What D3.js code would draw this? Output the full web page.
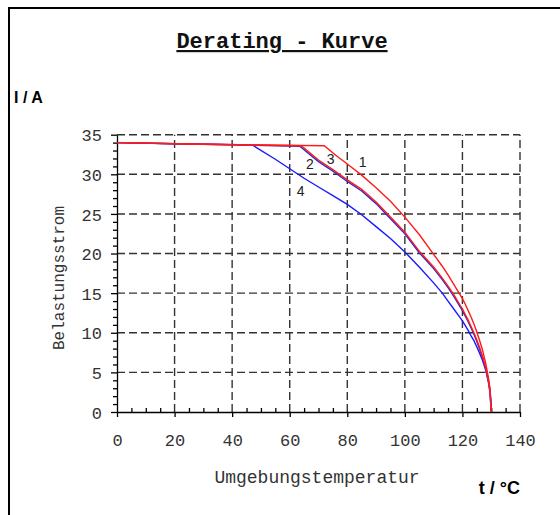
<!DOCTYPE html>
<html>
<head>
<meta charset="utf-8">
<script src="https://cdn.jsdelivr.net/npm/d3@7"></script>
<style>
  body { margin: 0; background: white; }
</style>
</head>
<body>
<script>

// values (temperature in °C, current in A)
var curve1_t = [0, 30, 72, 76, 80, 85, 90, 95, 100, 105, 110, 113, 115, 117, 119, 120, 121, 122, 123, 124, 125, 126, 127, 128, 129, 129.6, 130];
var curve1_i = [34.0, 33.8, 33.6, 32.4, 31.3, 29.9, 28.3, 26.6, 24.6, 22.4, 19.9, 18.4, 17.3, 16.1, 14.9, 14.3, 13.6, 12.8, 12.0, 11.1, 10.1, 9.0, 7.8, 6.3, 4.4, 2.8, 0];

var curve2_t = [0, 30, 63.5, 70, 75, 80, 85, 90, 95, 100, 105, 110, 113, 115, 117, 119, 120, 121, 122, 123, 124, 125, 126, 127, 128, 129, 129.6, 130];
var curve2_i = [34.0, 33.8, 33.55, 31.6, 30.4, 29.1, 27.9, 26.3, 24.4, 22.5, 20.1, 18.1, 16.7, 15.7, 14.6, 13.4, 12.8, 12.1, 11.4, 10.6, 9.8, 8.9, 7.9, 6.8, 5.5, 3.8, 2.4, 0];

var curve3_t = [0, 30, 64, 70, 75, 80, 85, 90, 95, 100, 105, 110, 113, 115, 117, 119, 120, 121, 122, 123, 124, 125, 126, 127, 128, 129, 129.6, 130];
var curve3_i = [34.0, 33.8, 33.6, 31.8, 30.6, 29.3, 28.1, 26.5, 24.6, 22.7, 20.3, 18.3, 16.9, 15.9, 14.8, 13.6, 13.0, 12.3, 11.6, 10.8, 10.0, 9.1, 8.1, 7.0, 5.7, 4.0, 2.5, 0];

var curve4_t = [0, 20, 40, 47, 55, 60, 65, 70, 75, 80, 85, 90, 95, 100, 105, 110, 113, 115, 117, 119, 120, 121, 122, 123, 124, 125, 126, 127, 128, 129, 129.5, 129.9, 130];
var curve4_i = [34.0, 33.85, 33.75, 33.7, 31.9, 30.7, 29.5, 28.4, 27.3, 26.2, 24.9, 23.4, 21.9, 20.2, 18.3, 16.3, 15.0, 14.0, 13.0, 12.0, 11.5, 10.9, 10.3, 9.6, 9.0, 8.2, 7.4, 6.5, 5.4, 4.0, 3.0, 1.5, 0];

// curve numbers and where they sit
var label_names = ["1", "2", "3", "4"];
var label_t = [85.3, 67.0, 74.2, 63.8];
var label_i = [30.9, 30.7, 31.3, 27.2];

var x_ticks = [0, 20, 40, 60, 80, 100, 120, 140];
var y_ticks = [0, 5, 10, 15, 20, 25, 30, 35];

window.onload = function() {

    const width = 560;
    const height = 515;

    var svg = d3.select("body").append("svg")
        .attr("width", width)
        .attr("height", height);

    var xScale = d3.scaleLinear()
        .domain([0, 140])
        .range([117, 520]);

    var yScale = d3.scaleLinear()
        .domain([0, 35])
        .range([412, 134.7]);

    // frame round the picture (left and top only)
    svg.append("path")
        .attr("d", "M9,515 L9,8 L560,8")
        .attr("fill", "none")
        .attr("stroke", "black")
        .attr("stroke-width", 2);

    // title
    svg.append("text")
        .attr("x", 282)
        .attr("y", 48)
        .attr("text-anchor", "middle")
        .attr("font-family", "'Liberation Mono', 'Courier New', monospace")
        .attr("font-weight", "bold")
        .attr("font-size", "22px")
        .attr("fill", "#111")
        .attr("text-decoration", "underline")
        .text("Derating - Kurve");

    svg.append("text")
        .attr("x", 14)
        .attr("y", 103)
        .attr("font-family", "'Liberation Sans', Arial, sans-serif")
        .attr("font-weight", "bold")
        .attr("font-size", "16px")
        .text("I / A");

    // dashed grid
    var grid = svg.append("g");
    grid.selectAll(".vgrid")
        .data(x_ticks.slice(1))
        .enter()
        .append("line")
        .attr("x1", function(d) { return xScale(d); })
        .attr("x2", function(d) { return xScale(d); })
        .attr("y1", yScale(0))
        .attr("y2", yScale(35));
    grid.selectAll(".hgrid")
        .data(y_ticks.slice(1))
        .enter()
        .append("line")
        .attr("x1", xScale(0))
        .attr("x2", xScale(140))
        .attr("y1", function(d) { return yScale(d); })
        .attr("y2", function(d) { return yScale(d); });
    grid.selectAll("line")
        .attr("stroke", "#333")
        .attr("stroke-width", 1.4)
        .attr("stroke-dasharray", "8,4");

    var tickFont = "'Liberation Mono', 'Courier New', monospace";

    // x axis: labelled ticks plus minor ticks pointing up
    var xAxis = svg.append("g")
        .attr("transform", "translate(0," + yScale(0) + ")")
        .call(d3.axisBottom(xScale).tickValues(x_ticks).tickSize(5).tickSizeOuter(0));
    xAxis.selectAll("text")
        .attr("y", 34)
        .attr("dy", "0")
        .attr("font-family", tickFont)
        .attr("font-size", "17px")
        .attr("fill", "#333");

    var xMinor = d3.range(5, 140, 5).filter(function(d) { return d % 20 != 0; });
    svg.append("g")
        .attr("transform", "translate(0," + yScale(0) + ")")
        .call(d3.axisTop(xScale).tickValues(xMinor).tickSize(4).tickFormat(""))
        .select(".domain").remove();

    // y axis: labelled ticks plus minor ticks on the left
    var yAxis = svg.append("g")
        .attr("transform", "translate(" + xScale(0) + ",0)")
        .call(d3.axisLeft(yScale).tickValues(y_ticks).tickSize(6).tickSizeOuter(0));
    yAxis.selectAll("text")
        .attr("x", -15)
        .attr("dy", "0.36em")
        .attr("font-family", tickFont)
        .attr("font-size", "17px")
        .attr("fill", "#333");

    var yMinor = d3.range(1, 35, 1).filter(function(d) { return d % 5 != 0; });
    svg.append("g")
        .attr("transform", "translate(" + xScale(0) + ",0)")
        .call(d3.axisLeft(yScale).tickValues(yMinor).tickSize(4).tickFormat(""))
        .select(".domain").remove();

    svg.selectAll(".domain, .tick line")
        .attr("stroke", "black")
        .attr("stroke-width", 1.3);

    // axis names
    svg.append("text")
        .attr("transform", "translate(64,278) rotate(-90)")
        .attr("text-anchor", "middle")
        .attr("font-family", tickFont)
        .attr("font-size", "16px")
        .attr("fill", "#333")
        .text("Belastungsstrom");

    svg.append("text")
        .attr("x", 317)
        .attr("y", 483)
        .attr("text-anchor", "middle")
        .attr("font-family", tickFont)
        .attr("font-size", "18px")
        .attr("fill", "#333")
        .text("Umgebungstemperatur");

    svg.append("text")
        .attr("x", 520)
        .attr("y", 494)
        .attr("text-anchor", "end")
        .attr("font-family", "'Liberation Sans', Arial, sans-serif")
        .attr("font-weight", "bold")
        .attr("font-size", "18px")
        .text("t / °C");

    // curves
    var curves = [
        {t: curve4_t, i: curve4_i, color: "#1a1aff"},
        {t: curve2_t, i: curve2_i, color: "#2a2ad8"},
        {t: curve3_t, i: curve3_i, color: "#ff1a1a"},
        {t: curve1_t, i: curve1_i, color: "#ff1a1a"}
    ];

    var line = d3.line()
        .x(function(d) { return xScale(d[0]); })
        .y(function(d) { return yScale(d[1]); });

    svg.selectAll(".curve")
        .data(curves)
        .enter()
        .append("path")
        .attr("class", "curve")
        .attr("fill", "none")
        .attr("stroke", function(d) { return d.color; })
        .attr("stroke-width", 1.4)
        .attr("d", function(d) {
            return line(d3.zip(d.t, d.i));
        });

    svg.selectAll(".curve-label")
        .data(label_names)
        .enter()
        .append("text")
        .attr("class", "curve-label")
        .attr("x", function(d, i) { return xScale(label_t[i]); })
        .attr("y", function(d, i) { return yScale(label_i[i]); })
        .attr("text-anchor", "middle")
        .attr("font-family", "'Liberation Sans', Arial, sans-serif")
        .attr("font-size", "14px")
        .attr("fill", "#222")
        .text(function(d) { return d; });

};
</script>
</body>
</html>
